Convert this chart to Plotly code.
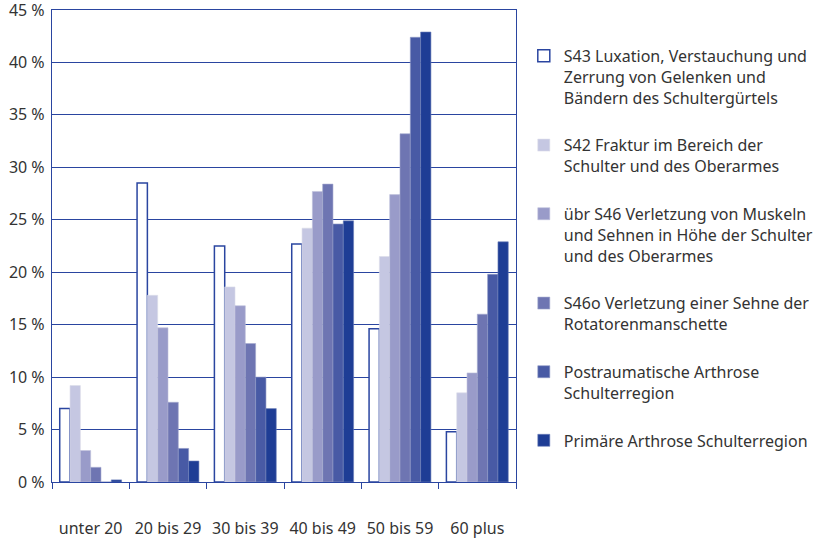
import plotly.graph_objects as go

categories = ["unter 20", "20 bis 29", "30 bis 39", "40 bis 49", "50 bis 59", "60 plus"]

series_names = [
    "S43 Luxation, Verstauchung und<br>Zerrung von Gelenken und<br>Bändern des Schultergürtels",
    "S42 Fraktur im Bereich der<br>Schulter und des Oberarmes",
    "übr S46 Verletzung von Muskeln<br>und Sehnen in Höhe der Schulter<br>und des Oberarmes",
    "S46o Verletzung einer Sehne der<br>Rotatorenmanschette",
    "Postraumatische Arthrose<br>Schulterregion",
    "Primäre Arthrose Schulterregion",
]

s43 = [7.0, 28.5, 22.5, 22.7, 14.6, 4.8]
s42 = [9.2, 17.8, 18.6, 24.2, 21.5, 8.5]
s46 = [3.0, 14.7, 16.8, 27.7, 27.4, 10.4]
s460 = [1.4, 7.6, 13.2, 28.4, 33.2, 16.0]
postr = [0.0, 3.2, 10.0, 24.6, 42.4, 19.8]
primaer = [0.2, 2.0, 7.0, 24.9, 42.9, 22.9]

series_values = [s43, s42, s46, s460, postr, primaer]
fill_colors = ["#ffffff", "#c5c7e2", "#999bc9", "#6e75b2", "#485aa5", "#1e3d95"]
line_colors = ["#2a45a0", "#dcdde9", "#c0c1dc", "#a5a9cf", "#8f99c6", "#6b7fb9"]
line_widths = [1.5, 0.6, 0.6, 0.6, 0.6, 0.6]

blue = "#2a45a0"
text_color = "#333333"
font_family = "Noto Sans, Open Sans, sans-serif"

fig = go.Figure()
for i, (name, vals, fc, lc, lw) in enumerate(zip(series_names, series_values, fill_colors, line_colors, line_widths)):
    fig.add_trace(go.Bar(
        x=categories, y=vals, name=name, legendgroup=f"g{i}",
        marker=dict(color=fc, line=dict(color=lc, width=lw)),
    ))

fig.update_layout(
    width=821, height=539,
    margin=dict(l=52, r=305, t=10, b=57, autoexpand=False),
    paper_bgcolor="white", plot_bgcolor="white",
    barmode="group", bargap=0.2, bargroupgap=0,
    font=dict(family=font_family, size=16, color=text_color),
    showlegend=True,
    legend=dict(
        xref="container", yref="container",
        x=0.638, y=0.928, xanchor="left", yanchor="top",
        valign="top", tracegroupgap=24, maxheight=520,
        font=dict(size=16, color=text_color),
        bgcolor="rgba(0,0,0,0)",
    ),
    xaxis=dict(
        type="category", showline=True, linecolor=blue, linewidth=1.3,
        mirror=True, ticks="outside", tickson="boundaries", tickcolor=blue,
        ticklen=6, tickwidth=1.3, showgrid=False, automargin=False,
        ticklabelstandoff=32, ticklabeloverflow="allow",
        tickfont=dict(size=16, color=text_color),
    ),
    yaxis=dict(
        range=[0, 45], dtick=5, ticksuffix=" %",
        showline=True, linecolor=blue, linewidth=1.3, mirror=True,
        showgrid=True, gridcolor=blue, gridwidth=1.1, automargin=False,
        zeroline=False, ticks="", ticklabelstandoff=3,
        ticklabeloverflow="allow",
        tickfont=dict(size=16, color=text_color),
    ),
)

fig.write_html(
    "out.html",
    config={"displayModeBar": False},
    post_script="document.body.style.margin='0';",
)
